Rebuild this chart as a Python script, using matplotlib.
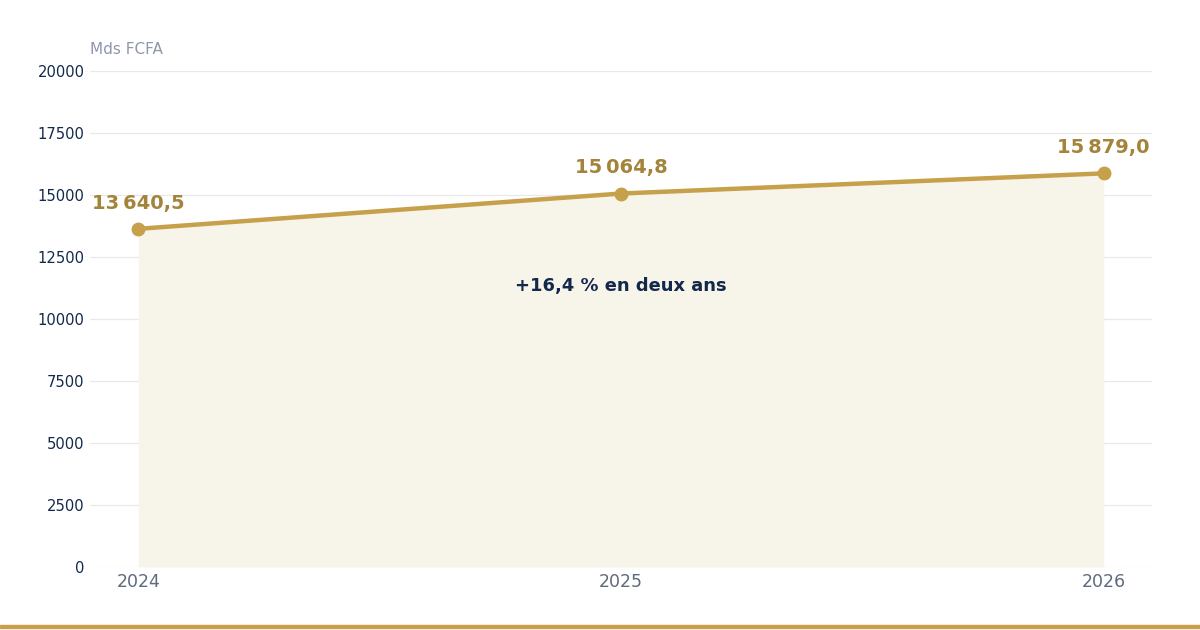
import matplotlib
matplotlib.use("Agg")
import matplotlib.pyplot as plt
from matplotlib.patches import Rectangle

years = [2024, 2025, 2026]
values = [13640.5, 15064.8, 15879.0]
value_labels = ["13\u202f640,5", "15\u202f064,8", "15\u202f879,0"]
yticks = [0, 2500, 5000, 7500, 10000, 12500, 15000, 17500, 20000]
unit_label = "Mds FCFA"
note_text = "+16,4 % en deux ans"
note_pos = (2025, 11350)

plt.rcParams['font.family'] = ['DejaVu Sans']

gold = "#c6a04a"
gold_text = "#a3843a"
navy = "#13284b"
grey = "#5e6a7e"

fig = plt.figure(figsize=(12, 6.3), dpi=100)
ax = fig.add_axes([0.075, 0.1, 0.885, 0.787])

ax.fill_between(years, values, 0, color="#f7f4ea", zorder=1, linewidth=0)
ax.plot(years, values, color=gold, linewidth=3.2, marker="o", markersize=9,
        zorder=3, solid_capstyle="round")

for x, v, lab in zip(years, values, value_labels):
    ax.annotate(lab, (x, v), xytext=(0, 18.5), textcoords="offset points",
                ha="center", va="center", fontsize=14, fontweight="bold",
                color=gold_text, zorder=4)

ax.text(note_pos[0], note_pos[1], note_text, ha="center", va="center",
        fontsize=12.9, fontweight="bold", color=navy, zorder=4)

ax.set_xlim(2023.9, 2026.1)
ax.set_ylim(0, 20000)
ax.set_yticks(yticks)
ax.set_yticklabels([str(t) for t in yticks])
ax.set_xticks(years)
ax.set_xticklabels([str(y) for y in years])
ax.grid(axis="y", color="#e9e9ec", linewidth=0.9, zorder=0)
ax.set_axisbelow(True)
for s in ax.spines.values():
    s.set_visible(False)
ax.tick_params(axis="both", length=0)
ax.tick_params(axis="y", labelsize=10.6, labelcolor=navy, pad=4)
ax.tick_params(axis="x", labelsize=12.5, labelcolor=grey, pad=4)

fig.text(0.075, 1 - 50 / 630, unit_label, ha="left", va="center",
         fontsize=11, color="#8f97ab")

fig.patches.append(Rectangle((0, 2.5 / 630), 1, 3 / 630, transform=fig.transFigure,
                             color=gold, zorder=5))

fig.savefig("out.png", dpi=100, facecolor="white")
